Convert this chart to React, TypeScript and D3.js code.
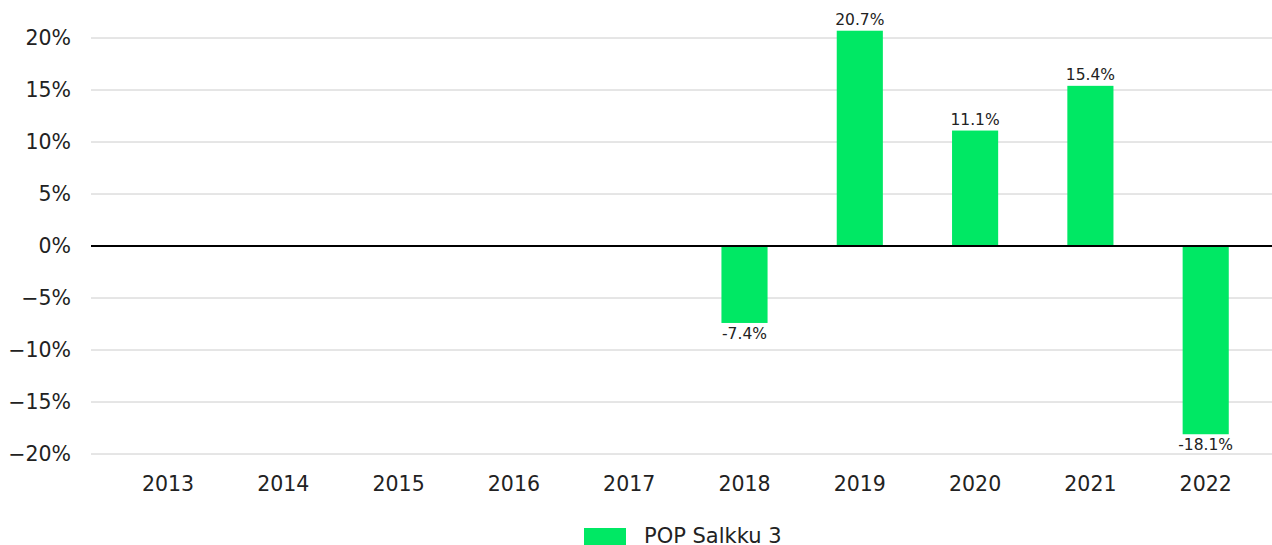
import React from 'react';
import * as d3 from 'd3';

const years = ['2013', '2014', '2015', '2016', '2017', '2018', '2019', '2020', '2021', '2022'];
const returns: (number | null)[] = [null, null, null, null, null, -7.4, 20.7, 11.1, 15.4, -18.1];
const yTicks = [20, 15, 10, 5, 0, -5, -10, -15, -20];
const seriesName = 'POP Salkku 3';

const W = 1272;
const H = 545;
const FONT = '"DejaVu Sans", sans-serif';
const GREEN = '#00E864';

export default function App() {
  const y = d3.scaleLinear().domain([-20, 20]).range([454, 38]);
  const x = d3.scaleBand<string>().domain(years).range([110.35, 1263.35]).paddingInner(0.6).paddingOuter(0.3);
  const fmtTick = (v: number) => (v < 0 ? '\u2212' + Math.abs(v) : String(v)) + '%';

  return (
    <svg width={W} height={H} style={{ position: 'absolute', left: 0, top: 0, background: '#fff' }} fontFamily={FONT}>
      {/* grid + y labels */}
      {yTicks.map((t) => (
        <g key={t}>
          {t !== 0 && <line x1={91} x2={W} y1={y(t)} y2={y(t)} stroke="#cccccc" strokeWidth={1} />}
          <text x={71} y={y(t)} dy="0.36em" textAnchor="end" fontSize={20.5} fill="#222">
            {fmtTick(t)}
          </text>
        </g>
      ))}

      {/* bars */}
      {years.map((yr, i) => {
        const v = returns[i];
        if (v == null) return null;
        const top = Math.min(y(v), y(0));
        const h = Math.abs(y(v) - y(0));
        const cx = (x(yr) as number) + x.bandwidth() / 2;
        return (
          <g key={yr}>
            <rect x={x(yr)} y={top} width={x.bandwidth()} height={h} fill={GREEN} />
            <text
              x={cx}
              y={v >= 0 ? y(v) - 6 : y(v) + 16}
              textAnchor="middle"
              fontSize={15.5}
              fill="#222"
            >
              {v.toFixed(1) + '%'}
            </text>
          </g>
        );
      })}

      {/* zero line */}
      <line x1={91} x2={W} y1={y(0)} y2={y(0)} stroke="#000" strokeWidth={2} />

      {/* x labels */}
      {years.map((yr) => (
        <text key={yr} x={(x(yr) as number) + x.bandwidth() / 2} y={491} textAnchor="middle" fontSize={20.5} fill="#222">
          {yr}
        </text>
      ))}

      {/* legend */}
      <rect x={584} y={528} width={42} height={17} fill={GREEN} />
      <text x={644} y={543} fontSize={21} fill="#222">
        {seriesName}
      </text>
    </svg>
  );
}
